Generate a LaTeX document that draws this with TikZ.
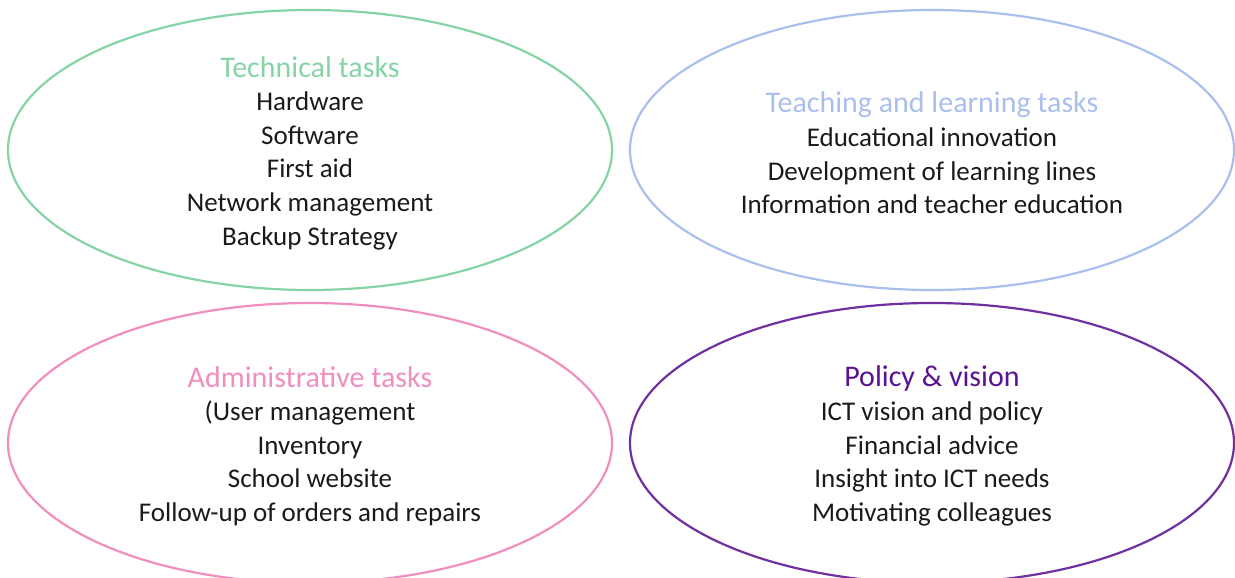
\documentclass[tikz,border=0pt]{standalone}
\usepackage{fontspec}
\setmainfont{Carlito}
\usetikzlibrary{shapes.geometric}
\definecolor{techgreen}{HTML}{86D4A6}
\definecolor{teachblue}{HTML}{AABFEE}
\definecolor{adminpink}{HTML}{F08EBE}
\definecolor{policypurple}{HTML}{7030A0}
\definecolor{policytitle}{HTML}{5A1290}
\definecolor{bodytext}{HTML}{1A1A1A}
\newcommand{\tasktitle}[2]{{\fontsize{30}{33.6}\selectfont\textcolor{#1}{#2}}}
\begin{document}
\begin{tikzpicture}[x=1pt,y=-1pt,
  taskellipse/.style={ellipse, draw, line width=2.2pt, minimum width=604pt, minimum height=280pt, inner sep=0pt},
  tasktext/.style={align=center, text=bodytext, font=\fontsize{27}{33.6}\selectfont}]
\useasboundingbox (0,0) rectangle (1235,578);
\node[taskellipse, draw=techgreen] (tech) at (310,150) {};
\node[taskellipse, draw=teachblue] (teach) at (932,150) {};
\node[taskellipse, draw=adminpink] (admin) at (310,443) {};
\node[taskellipse, draw=policypurple] (policy) at (932,443) {};
\node[tasktext] (techtext) at (310,153) {\tasktitle{techgreen}{Technical tasks}\\Hardware\\Software\\First aid\\Network management\\Backup Strategy};
\node[tasktext] (teachtext) at (932,153) {\tasktitle{teachblue}{Teaching and learning tasks}\\Educational innovation\\Development of learning lines\\Information and teacher education};
\node[tasktext] (admintext) at (310,446) {\tasktitle{adminpink}{Administrative tasks}\\(User management\\Inventory\\School website\\Follow-up of orders and repairs};
\node[tasktext] (policytext) at (932,446) {\tasktitle{policytitle}{Policy \& vision}\\ICT vision and policy\\Financial advice\\Insight into ICT needs\\Motivating colleagues};
\end{tikzpicture}
\end{document}
